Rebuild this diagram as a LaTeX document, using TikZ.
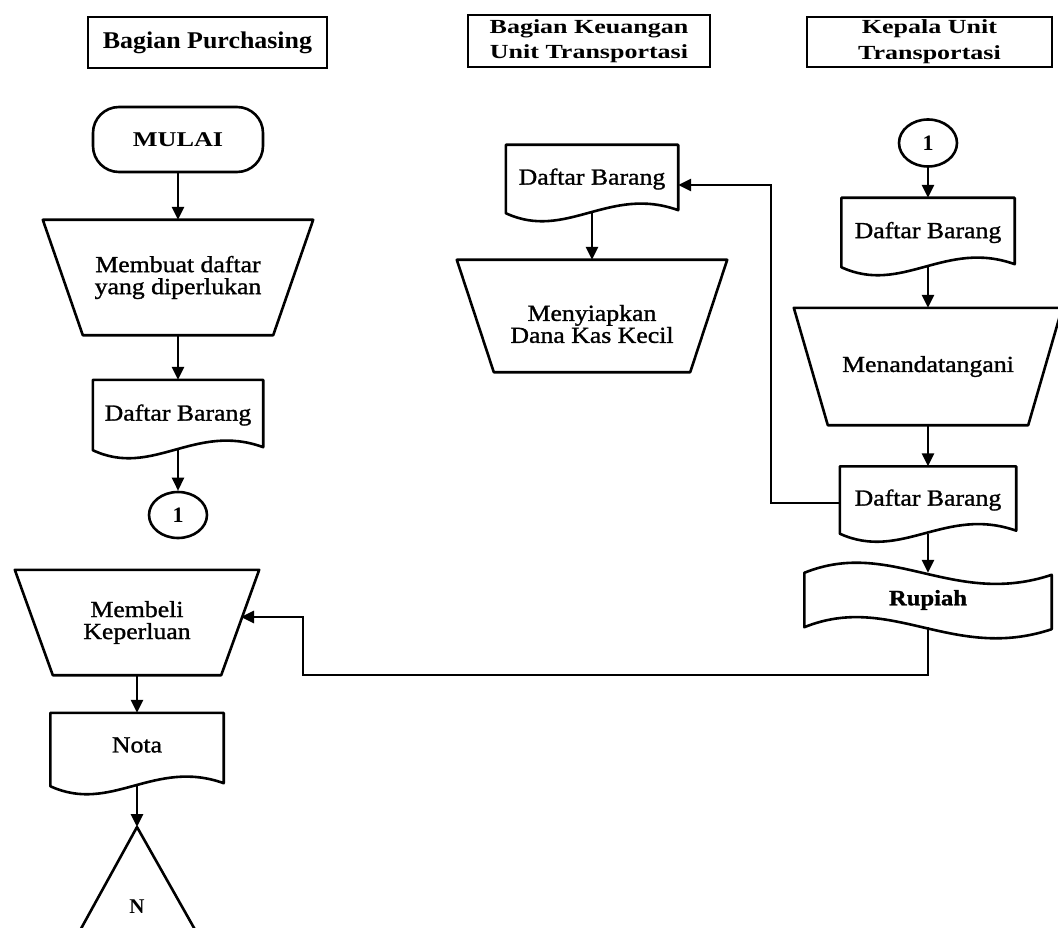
\documentclass[tikz,border=0pt]{standalone}
\usepackage{fontspec}
\setmainfont{Liberation Serif}
\newfontfamily\innerfont[FakeStretch=1.12,FakeBold=1.2]{Liberation Serif}
\newfontfamily\hdrfont[FakeStretch=1.3]{Liberation Serif}
\newfontfamily\hdronefont[FakeStretch=1.08]{Liberation Serif}
\newfontfamily\mulfont[FakeStretch=1.25]{Liberation Serif}
\usetikzlibrary{arrows.meta,calc,shapes.geometric}
\tikzset{
  x=1pt, y=-1pt,
  shp/.style={draw=black, line width=2.6pt, line join=round},
  arr/.style={draw=black, line width=2.6pt, -{Triangle[length=13pt,width=12pt]}},
  hdrbox/.style={draw=black, line width=2.4pt, inner sep=0pt, align=center},
  txt/.style={inner sep=0pt, align=center, font=\innerfont\fontsize{23}{22}\selectfont},
  sbox/.style={inner sep=0pt, draw=none},
}
\newcommand\docshape[1]{\draw[shp] (#1.south west) -- (#1.north west) -- (#1.north east) -- ($(#1.south east)+(0,-3)$) .. controls ($(#1.south west)!0.6!(#1.south east)+(0,-28)$) and ($(#1.south west)!0.35!(#1.south east)+(0,28)$) .. (#1.south west) -- cycle;}
\newcommand\trapshape[2]{\draw[shp] (#1.north west) -- (#1.north east) -- ($(#1.south east)+(-#2,0)$) -- ($(#1.south west)+(#2,0)$) -- cycle;}
\newcommand\tapeshape[1]{\draw[shp] (#1.north west) .. controls ($(#1.north west)!0.35!(#1.north east)+(0,-35)$) and ($(#1.north west)!0.6!(#1.north east)+(0,35)$) .. ($(#1.north east)+(0,2)$) -- ($(#1.south east)+(0,2)$) .. controls ($(#1.south west)!0.6!(#1.south east)+(0,35)$) and ($(#1.south west)!0.35!(#1.south east)+(0,-35)$) .. (#1.south west) -- cycle;}
\begin{document}
\begin{tikzpicture}
\useasboundingbox[fill=white] (0,0) rectangle (1058,928);

% headers
\node[hdrbox, font=\hdronefont\bfseries\fontsize{24}{26}\selectfont, minimum width=239pt, minimum height=51pt] (h1) at (207.5,42.5) {Bagian Purchasing};
\node[hdrbox, font=\hdrfont\bfseries\fontsize{20}{25}\selectfont, minimum width=242pt, minimum height=52pt] (h2) at (589,41) {Bagian Keuangan\\Unit Transportasi};
\node[hdrbox, font=\hdrfont\bfseries\fontsize{20}{26}\selectfont, minimum width=245pt, minimum height=50pt] (h3) at (929.5,42) {Kepala Unit\\Transportasi};

% left column
\node[shp, rounded corners=26pt, minimum width=170pt, minimum height=65pt, inner sep=0pt, font=\mulfont\bfseries\fontsize{21}{21}\selectfont] (start) at (178,139.5) {MULAI};
\node[txt, minimum width=270pt, minimum height=115pt] (mk) at (178,277.5) {Membuat daftar\\yang diperlukan};
\trapshape{mk}{40}
\node[txt, minimum width=170pt, minimum height=70pt] (dl) at (178,415) {Daftar Barang};
\docshape{dl}
\node[shp, ellipse, minimum width=58pt, minimum height=46pt, inner sep=0pt, font=\bfseries\fontsize{22}{22}\selectfont] (c1l) at (178,515) {1};

\node[txt, minimum width=244pt, minimum height=105pt] (mb) at (137,622.5) {Membeli\\Keperluan};
\trapshape{mb}{38}
\coordinate (mbin) at (241,617);
\node[sbox, minimum width=173pt, minimum height=73pt] (nota) at (137,749.5) {};
\node[txt] (notat) at (137,745) {Nota};
\docshape{nota}
\coordinate (tri) at (137,827);
\draw[shp] (tri) -- ($(tri)+(-76,138)$) -- ($(tri)+(78,138)$) -- cycle;
\node[font=\bfseries\fontsize{21}{21}\selectfont, inner sep=0pt] (nn) at (137,907) {N};

% middle column
\node[txt, minimum width=172pt, minimum height=68pt] (dm) at (592,179) {Daftar Barang};
\docshape{dm}
\node[sbox, minimum width=270pt, minimum height=112pt] (ms) at (592,316) {};
\node[txt] (mst) at (592,324) {Menyiapkan\\Dana Kas Kecil};
\trapshape{ms}{37}

% right column
\node[shp, ellipse, minimum width=58pt, minimum height=47pt, inner sep=0pt, font=\bfseries\fontsize{22}{22}\selectfont] (c1r) at (928,143) {1};
\node[txt, minimum width=173pt, minimum height=69pt] (d1) at (928,232.5) {Daftar Barang};
\docshape{d1}
\node[txt, minimum width=268pt, minimum height=117pt] (mn) at (928,366.5) {Menandatangani};
\trapshape{mn}{34}
\node[txt, minimum width=176pt, minimum height=67pt] (d2) at (928,500) {Daftar Barang};
\docshape{d2}
\node[txt, font=\innerfont\bfseries\fontsize{22}{22}\selectfont, minimum width=247pt, minimum height=54pt] (rup) at (928,600) {Rupiah};
\tapeshape{rup}

% connectors
\draw[arr] (start.south) -- (mk.north);
\draw[arr] (mk.south) -- (dl.north);
\draw[arr] (dl.south) -- (c1l.north);
\draw[arr] (mb.south) -- (nota.north);
\draw[arr] (nota.south) -- (tri);
\draw[arr] (dm.south) -- (ms.north);
\draw[arr] (c1r.south) -- (d1.north);
\draw[arr] (d1.south) -- (mn.north);
\draw[arr] (mn.south) -- (d2.north);
\draw[arr] (d2.south) -- (rup.north);
\coordinate (k1) at (771,185);
\draw[arr] ($(d2.west)+(0,3)$) -| (k1) -- ($(dm.east)+(0,6)$);
\coordinate (k2) at (303,675);
\draw[arr] (rup.south) |- (k2) |- (mbin);
\end{tikzpicture}
\end{document}
